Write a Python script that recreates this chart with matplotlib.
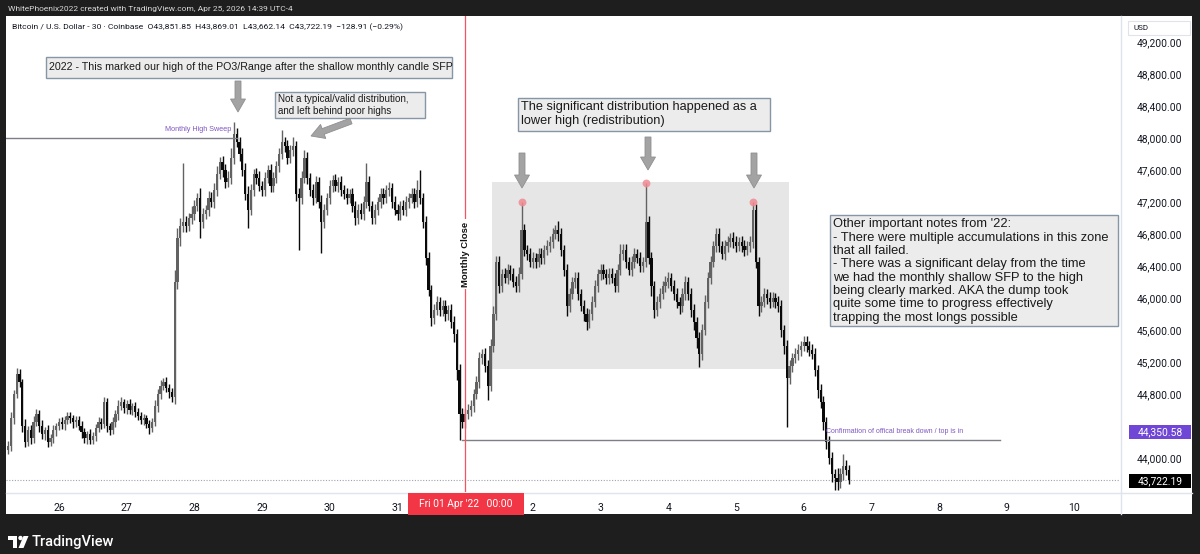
import matplotlib
matplotlib.use('Agg')
import matplotlib.pyplot as plt
from matplotlib.patches import Rectangle, FancyArrow, Circle, Polygon
from matplotlib.transforms import IdentityTransform
import numpy as np

# ---------------- data (hourly candles) ----------------
open0 = 44100
closes = [
    44150, 44500, 44800, 45050, 44950, 44400, 44200, 44350, 44250, 44450, 44550, 44400,
    44300, 44350, 44200, 44250, 44350, 44400, 44450, 44420, 44480, 44520, 44500, 44450,
    44480, 44400, 44320, 44250, 44300, 44230, 44280, 44380, 44450, 44420, 44700, 44400,
    44350, 44450, 44550, 44650, 44700, 44620, 44680, 44600, 44650, 44580, 44520, 44480,
    44500, 44420, 44380, 44450, 44650, 44800, 44900, 44950, 44880, 44820, 44760, 46200,
    46750, 46900, 46950, 46900, 47000, 47050, 47150, 47250, 46950, 47050, 47100, 47250,
    47200, 47350, 47550, 47700, 47600, 47450, 47500, 47750, 48050, 47950, 47800, 47600,
    47300, 47100, 47350, 47550, 47500, 47400, 47350, 47500, 47600, 47400, 47500, 47650,
    47800, 47950, 47900, 47750, 47850, 47900, 47300, 47250, 47500, 47750, 47500, 47350,
    47250, 47450, 47200, 46950, 47100, 47250, 47400, 47480, 47400, 47450, 47350, 47300,
    47250, 47300, 47150, 47000, 47100, 47050, 47200, 47450, 47150, 47000, 47100, 47200,
    47300, 47250, 47350, 47380, 47200, 47100, 47050, 47150, 47100, 47200, 47250, 47300,
    47200, 47350, 47250, 46950, 46500, 46100, 45750, 45850, 45950, 45850, 45900, 45800,
    45850, 45700, 45550, 45100, 44550, 44450, 44550, 44600, 44650, 44800, 44950, 45250,
    45300, 45150, 44900, 45400, 45800, 46450, 46150, 46300, 46250, 46350, 46300, 46200,
    46150, 46300, 46850, 46600, 46550, 46450, 46500, 46450, 46550, 46500, 46600, 46650,
    46700, 46800, 46850, 46800, 46600, 46350, 45900, 46050, 46200, 46250, 46050, 45900,
    45800, 45700, 45800, 45950, 46150, 46300, 46350, 46300, 46250, 46300, 46250, 46150,
    46350, 46550, 46600, 46450, 46350, 46450, 46550, 46500, 46400, 46450, 46950, 46500,
    46150, 45850, 45950, 46050, 46150, 46200, 46250, 46150, 46050, 45950, 45900, 46050,
    46200, 46050, 45850, 45700, 45500, 45300, 45600, 45950, 46250, 46450, 46650, 46800,
    46650, 46550, 46650, 46700, 46750, 46700, 46650, 46700, 46650, 46600, 46650, 46700,
    47100, 46450, 45900, 45950, 46050, 46000, 45950, 46000, 45950, 45900, 45600, 45400,
    45000, 45150, 45250, 45300, 45350, 45400, 45450, 45400, 45350, 45300, 45100, 44850,
    44700, 44450, 44200, 44000, 43800, 43750, 43700, 43800, 43900, 43850, 43722.19,
]
upper_wick = [
    60, 80, 50, 70, 60, 40, 90, 50, 60, 80, 60, 50, 70, 40, 60, 50, 60, 40, 50, 60, 40, 50, 60, 40,
    50, 40, 60, 50, 40, 60, 50, 40, 60, 50, 60, 50, 40, 60, 50, 70, 60, 40, 50, 60, 40, 50, 40, 60,
    50, 40, 60, 50, 80, 60, 70, 50, 60, 40, 50, 150, 120, 100, 740, 80, 60, 100, 80, 60, 120, 80, 60, 90,
    70, 90, 100, 60, 80, 70, 90, 120, 150, 80, 60, 70, 90, 100, 80, 60, 70, 90, 60, 80, 60, 70, 80, 60,
    80, 150, 60, 70, 60, 110, 60, 80, 90, 100, 80, 60, 70, 80, 60, 90, 70, 60, 80, 60, 70, 60, 80, 60,
    70, 60, 80, 60, 70, 90, 80, 240, 70, 60, 80, 60, 70, 80, 60, 70, 60, 80, 70, 60, 80, 70, 60, 80,
    70, 120, 250, 60, 80, 70, 60, 80, 70, 60, 80, 70, 60, 80, 70, 60, 80, 70, 60, 80, 70, 60, 70, 80,
    60, 80, 70, 90, 100, 80, 70, 60, 80, 70, 60, 80, 70, 90, 350, 80, 60, 70, 80, 60, 70, 80, 60, 70,
    80, 70, 60, 110, 70, 60, 80, 70, 60, 80, 70, 60, 70, 80, 60, 70, 80, 60, 70, 80, 60, 70, 80, 60,
    70, 120, 80, 70, 60, 80, 70, 60, 80, 60, 490, 80, 70, 60, 80, 70, 60, 80, 70, 60, 80, 70, 60, 80,
    70, 60, 80, 70, 60, 80, 70, 90, 80, 70, 60, 80, 70, 60, 80, 70, 60, 80, 70, 60, 80, 70, 60, 80,
    100, 70, 60, 80, 70, 60, 80, 70, 60, 80, 70, 60, 80, 70, 60, 80, 70, 60, 80, 70, 60, 80, 70, 60,
    80, 70, 60, 80, 70, 60, 120, 80, 150, 70, 60,
]
lower_wick = [
    50, 60, 70, 50, 60, 80, 60, 50, 70, 60, 50, 70, 60, 80, 60, 50, 60, 70, 50, 60, 70, 50, 60, 70,
    60, 50, 70, 60, 80, 50, 60, 70, 50, 60, 50, 70, 60, 50, 60, 70, 50, 60, 70, 50, 60, 70, 50, 60,
    70, 50, 80, 60, 50, 70, 60, 50, 60, 70, 60, 80, 90, 100, 80, 70, 60, 80, 70, 60, 200, 70, 60, 80,
    60, 70, 80, 60, 90, 70, 60, 80, 70, 60, 90, 80, 70, 225, 60, 80, 70, 60, 80, 70, 60, 80, 70, 60,
    70, 60, 80, 70, 60, 80, 90, 650, 70, 60, 80, 70, 90, 60, 80, 390, 70, 60, 80, 70, 60, 80, 70, 60,
    70, 60, 80, 90, 70, 60, 80, 70, 60, 80, 70, 60, 80, 70, 60, 80, 70, 60, 80, 70, 60, 80, 70, 60,
    70, 60, 80, 70, 90, 80, 100, 70, 60, 80, 70, 90, 70, 80, 100, 120, 320, 80, 70, 60, 80, 70, 60, 80,
    70, 80, 180, 60, 70, 80, 90, 70, 60, 80, 70, 60, 80, 70, 60, 80, 70, 60, 80, 70, 60, 80, 70, 60,
    70, 80, 60, 90, 70, 80, 120, 70, 60, 80, 70, 60, 90, 100, 80, 70, 60, 80, 70, 60, 80, 70, 60, 80,
    70, 60, 80, 70, 60, 80, 70, 60, 80, 70, 60, 80, 120, 100, 80, 70, 60, 80, 70, 60, 80, 70, 100, 80,
    70, 80, 90, 100, 120, 160, 70, 60, 80, 70, 60, 80, 70, 60, 80, 70, 60, 80, 70, 60, 80, 70, 60, 80,
    70, 80, 120, 70, 60, 80, 70, 60, 80, 70, 90, 100, 610, 80, 70, 60, 80, 70, 60, 80, 70, 60, 80, 100,
    80, 100, 90, 80, 100, 150, 100, 80, 70, 60, 50,
]
start_day = -0.75            # first candle: Mar 25 06:00 (days from Mar 26 00:00)
candle_hours = 1
marked_highs = [182, 226, 264]   # candles tagged with red dots

day_ticks = [0, 1, 2, 3, 4, 5, 7, 8, 9, 10, 11, 12, 13, 14, 15]
day_labels = ['26', '27', '28', '29', '30', '31', '2', '3', '4', '5', '6', '7', '8', '9', '10']
price_ticks = list(range(44000, 49201, 400))
hidden_price_ticks = [44400]     # covered by the level label

monthly_close_day = 6
sweep_level = 48000
sweep_days = [-0.8, 2.63]
confirm_level = 44220
confirm_days = [5.95, 13.9]
zone_days = [6.396, 10.78]
zone_prices = [45110, 47450]
last_ohlc = [43851.85, 43869.01, 43662.14, 43722.19]
last_change, last_pct = -128.91, -0.29
level_label = 44350.58

# ---------------- figure ----------------
W, H = 1200, 554
fig = plt.figure(figsize=(W / 100, H / 100), dpi=100)
fig.patch.set_facecolor('#1e1e1e')
ID = IdentityTransform()
SANS = ['Liberation Sans', 'DejaVu Sans']
UI = ['Roboto', 'DejaVu Sans']


def prect(x0, y0, x1, y1, **kw):
    r = Rectangle((x0, H - y1), x1 - x0, y1 - y0, transform=ID, **kw)
    fig.add_artist(r)
    return r


def ptext(x, y, s, **kw):
    return fig.text(x, H - y, s, transform=ID, **kw)


prect(6, 16, 1192, 514, facecolor='white', edgecolor='none', zorder=-5)

ax = fig.add_axes([6 / W, (H - 492) / H, (1120 - 6) / W, (492 - 16) / H])
ax.set_facecolor('white')
ax.set_xlim(-0.783, 15.672)
ax.set_ylim(43575, 49525)
for s in ax.spines.values():
    s.set_visible(False)

n = min(len(closes), len(upper_wick), len(lower_wick))
c = np.array(closes[:n], dtype=float)
o = np.concatenate([[open0], c[:-1]])
hi = np.maximum(o, c) + np.array(upper_wick[:n])
lo = np.minimum(o, c) - np.array(lower_wick[:n])
t = start_day + np.arange(n) * candle_hours / 24.0
up = c >= o
cols = np.where(up, '#626262', '#0a0a0a')

# zone box
ax.add_patch(Rectangle((zone_days[0], zone_prices[0]), zone_days[1] - zone_days[0],
                       zone_prices[1] - zone_prices[0], facecolor='#e6e6e6',
                       edgecolor='none', zorder=0.5))

ax.vlines(t, lo, hi, colors=cols, lw=1.0, zorder=2)
body = np.maximum(np.abs(c - o), 12)
ax.bar(t, body, bottom=np.minimum(o, c), width=0.8 / 24, color=cols, zorder=2.5, linewidth=0)

# red dots on marked highs
ax.scatter(t[marked_highs], hi[marked_highs], s=32, color='#f08a92', alpha=0.85,
           zorder=4, linewidths=0)

# level lines
ax.plot(sweep_days, [sweep_level] * 2, color='#7c7f88', lw=1.0, zorder=3)
ax.plot(confirm_days, [confirm_level] * 2, color='#7c7f88', lw=1.0, zorder=3)
ax.axhline(last_ohlc[3], color='#a0a3ab', lw=0.8, ls=(0, (1, 1.5)), zorder=1)
ax.axvline(monthly_close_day, color='#f7525f', lw=0.9, zorder=3)
ax.text(monthly_close_day, 46550, 'Monthly Close', rotation=90, ha='center', va='center',
        fontsize=6.8, fontweight='bold', color='#111111', family=SANS, zorder=4,
        bbox=dict(facecolor='white', edgecolor='none', pad=1.5))
ax.text(sweep_days[1] - 0.08, sweep_level + 60, 'Monthly High Sweep', ha='right', va='bottom',
        fontsize=5.2, color='#7e57c2', family=SANS, zorder=4)
ax.text(11.33, confirm_level + 70, 'Confirmation of offical break down / top is in',
        ha='left', va='bottom', fontsize=5.0, color='#7e57c2', family=SANS, zorder=4)

# axes ticks
ax.yaxis.tick_right()
ax.set_yticks(price_ticks)
ax.set_yticklabels(['' if v in hidden_price_ticks else f'{v:,.2f}' for v in price_ticks])
ax.tick_params(axis='y', length=0, pad=12, labelsize=7.4, labelcolor='#131722')
ax.set_xticks(day_ticks)
ax.set_xticklabels(day_labels)
ax.tick_params(axis='x', length=0, pad=8, labelsize=7.6, labelcolor='#131722')
for lab in ax.get_xticklabels() + ax.get_yticklabels():
    lab.set_family(UI)

# separators
fig.add_artist(plt.Line2D([1120.5, 1120.5], [H - 16, H - 514], transform=ID, color='#e0e3eb', lw=1))
fig.add_artist(plt.Line2D([6, 1192], [H - 492.5, H - 492.5], transform=ID, color='#e0e3eb', lw=1))

# price-scale labels
prect(1129, 425, 1191, 439, facecolor='#7046d6', edgecolor='none', zorder=6)
ptext(1160, 432, f'{level_label:,.2f}', ha='center', va='center', fontsize=7.4, color='white',
      family=UI, zorder=7)
prect(1129, 474, 1191, 488, facecolor='black', edgecolor='none', zorder=6)
ptext(1160, 481, f'{last_ohlc[3]:,.2f}', ha='center', va='center', fontsize=7.4, color='white',
      family=UI, zorder=7)
prect(1128, 21, 1190, 35, facecolor='white', edgecolor='#e0e3eb', lw=0.8, zorder=6)
ptext(1133, 28.5, 'USD', ha='left', va='center', fontsize=5.8, color='#131722', family=UI, zorder=7)

# time-scale red label
prect(408, 493, 524, 515, facecolor='#f23645', edgecolor='none', zorder=6)
ptext(466, 504, "Fri 01 Apr '22   00:00", ha='center', va='center', fontsize=7.4, color='white',
      family=UI, zorder=7)

# header texts
ptext(8, 8.5, 'WhitePhoenix2022 created with TradingView.com, Apr 25, 2026 14:39 UTC-4',
      ha='left', va='center', fontsize=6.0, color='#d8d8d8', family=UI)
hdr = (f'Bitcoin / U.S. Dollar - 30 · Coinbase  O{last_ohlc[0]:,.2f}  H{last_ohlc[1]:,.2f}  '
       f'L{last_ohlc[2]:,.2f}  C{last_ohlc[3]:,.2f}  \u2212{abs(last_change):.2f} '
       f'(\u2212{abs(last_pct):.2f}%)')
ptext(12, 27.5, hdr, ha='left', va='center', fontsize=6.1, color='#131722', family=UI, zorder=7)

# annotation boxes
BOXF, BOXE = '#ececec', '#8796a5'


def note(x0, y0, x1, y1, lines, y_first, step, size):
    prect(x0, y0, x1, y1, facecolor=BOXF, edgecolor=BOXE, lw=1.0, zorder=6)
    for k, s in enumerate(lines):
        ptext(x0 + 3, y_first + k * step, s, ha='left', va='center', fontsize=size,
              color='#1a1a1a', family=SANS, zorder=7)


note(46, 57, 452, 78, ['2022 - This marked our high of the PO3/Range after the shallow monthly candle SFP'],
     67.5, 0, 7.7)
note(275, 92, 425, 118, ['Not a typical/valid distribution,', 'and left behind poor highs'],
     99.5, 11.5, 7.1)
note(518, 98, 770, 131, ['The significant distribution happened as a', 'lower high (redistribution)'],
     107, 14, 9.2)
note(830, 215, 1118, 326, ["Other important notes from '22:",
                           '- There were multiple accumulations in this zone',
                           'that all failed.',
                           '- There was a significant delay from the time',
                           'we had the monthly shallow SFP to the high',
                           'being clearly marked. AKA the dump took',
                           'quite some time to progress effectively',
                           'trapping the most longs possible'],
     224.5, 13.3, 9.3)

# arrows
for (x0, y0, x1, y1) in [(238, 81, 238, 112), (522, 153, 522, 188), (648, 137, 648, 170),
                         (754, 153, 754, 188), (351, 121, 311, 136)]:
    fig.add_artist(FancyArrow(x0, H - y0, x1 - x0, -(y1 - y0), width=6, head_width=15,
                              head_length=13, length_includes_head=True, transform=ID,
                              facecolor='#a3a3a3', edgecolor='#8f8f8f', lw=0.6, zorder=6))

# TradingView logo
fig.add_artist(Polygon([(8, H - 536), (17, H - 536), (17, H - 548), (13, H - 548), (13, H - 540),
                        (8, H - 540)], closed=True, transform=ID, facecolor='white', edgecolor='none'))
fig.add_artist(Circle((20.5, H - 538), 2.2, transform=ID, facecolor='white', edgecolor='none'))
fig.add_artist(Polygon([(23.5, H - 536), (28.5, H - 536), (23.5, H - 548), (18.5, H - 548)],
                       closed=True, transform=ID, facecolor='white', edgecolor='none'))
ptext(32, 542, 'TradingView', ha='left', va='center', fontsize=10.5, color='white',
      family=UI, fontweight='medium')

fig.savefig('out.png', dpi=100, facecolor=fig.get_facecolor())
